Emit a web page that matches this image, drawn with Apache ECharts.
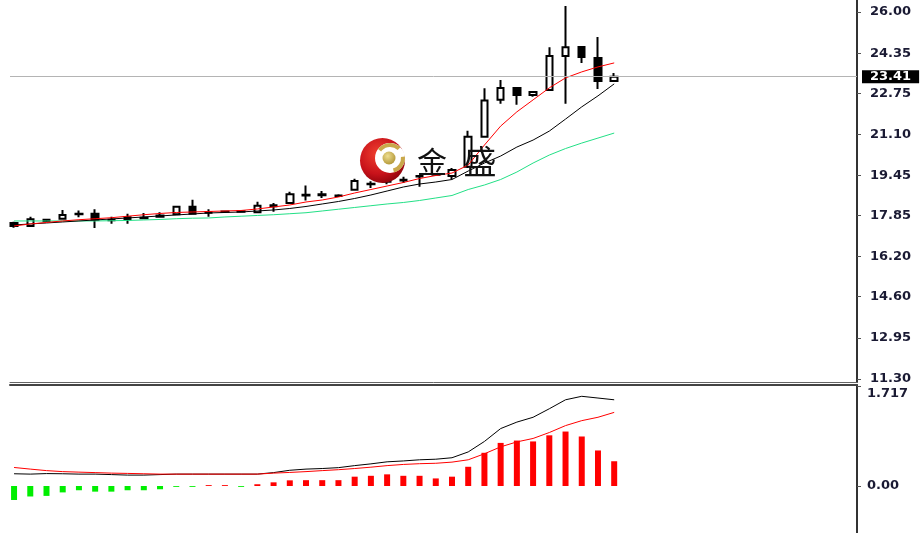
<!DOCTYPE html>
<html>
<head>
<meta charset="utf-8">
<script src="https://cdn.jsdelivr.net/npm/echarts@6/dist/echarts.min.js"></script>
<style>
html,body{margin:0;padding:0;background:#fff;}
#chart{width:924px;height:533px;}
</style>
</head>
<body>
<div id="chart"></div>
<script>
// ---- data ----
const openP  = [17.55,17.43,17.63,17.72,17.90,17.92,17.66,17.78,17.74,17.85,17.90,18.20,17.96,18.00,18.02,17.98,18.22,18.35,18.65,18.66,18.63,18.88,19.10,19.20,19.25,19.41,19.48,19.43,19.80,21.00,22.48,22.96,22.68,22.88,24.24,24.60,24.16,23.24];
const closeP = [17.43,17.70,17.68,17.87,17.92,17.68,17.68,17.70,17.76,17.80,18.20,17.92,17.98,18.01,18.00,18.24,18.26,18.70,18.68,18.70,18.65,19.23,19.12,19.24,19.28,19.43,19.50,19.67,21.00,22.45,22.96,22.68,22.80,24.24,24.59,24.20,23.24,23.41];
const lowP   = [17.36,17.40,17.60,17.70,17.78,17.35,17.52,17.52,17.72,17.78,17.88,17.90,17.80,17.95,17.98,17.95,18.00,18.33,18.45,18.55,18.60,18.85,18.95,19.10,19.15,19.00,19.45,19.30,19.75,20.98,22.32,22.28,22.60,22.85,22.32,23.96,22.92,23.20];
const highP  = [17.60,17.80,17.70,18.07,18.05,18.10,17.80,17.92,17.95,17.98,18.22,18.48,18.10,18.05,18.05,18.40,18.35,18.80,19.05,18.83,18.70,19.32,19.22,19.35,19.40,19.45,19.55,19.75,21.24,22.95,23.28,23.00,22.84,24.59,26.24,24.62,25.00,23.56];
const maRed   = [17.43,17.51,17.57,17.63,17.68,17.72,17.76,17.82,17.88,17.93,17.97,17.99,18.01,18.03,18.05,18.11,18.19,18.27,18.39,18.47,18.59,18.75,18.89,19.03,19.17,19.33,19.45,19.55,19.87,20.67,21.43,22.00,22.48,22.96,23.36,23.60,23.80,23.96];
const maBlack = [17.47,17.51,17.55,17.59,17.63,17.67,17.71,17.75,17.79,17.83,17.87,17.91,17.95,17.97,17.99,18.03,18.07,18.13,18.21,18.31,18.41,18.53,18.67,18.83,18.99,19.11,19.19,19.29,19.63,19.95,20.23,20.59,20.87,21.23,21.71,22.20,22.64,23.12];
const maGreen = [17.63,17.63,17.63,17.63,17.63,17.63,17.64,17.65,17.67,17.69,17.72,17.74,17.75,17.79,17.82,17.85,17.88,17.92,17.96,18.03,18.10,18.17,18.24,18.31,18.37,18.45,18.55,18.65,18.89,19.07,19.29,19.59,19.95,20.27,20.53,20.75,20.95,21.15];
const oscHist   = [-0.24,-0.18,-0.17,-0.11,-0.073,-0.097,-0.097,-0.073,-0.073,-0.056,-0.015,-0.015,0.015,0.015,-0.015,0.03,0.063,0.097,0.1,0.1,0.1,0.16,0.175,0.2,0.175,0.175,0.13,0.16,0.33,0.57,0.74,0.78,0.765,0.87,0.935,0.85,0.61,0.425];
const oscBlack  = [0.21,0.204,0.213,0.21,0.204,0.204,0.196,0.187,0.187,0.196,0.204,0.204,0.204,0.204,0.204,0.204,0.23,0.27,0.29,0.3,0.315,0.35,0.38,0.415,0.43,0.45,0.46,0.485,0.585,0.765,0.986,1.097,1.18,1.326,1.48,1.54,1.51,1.48];
const oscRed    = [0.318,0.29,0.264,0.247,0.238,0.23,0.221,0.216,0.21,0.204,0.204,0.204,0.204,0.204,0.204,0.204,0.221,0.233,0.247,0.264,0.28,0.3,0.323,0.35,0.37,0.383,0.39,0.41,0.45,0.553,0.672,0.757,0.816,0.918,1.037,1.122,1.18,1.264];
const priceTickLabels = ['26.00','24.35','22.75','21.10','19.45','17.85','16.20','14.60','12.95','11.30'];
const oscTickLabels = ['1.717','0.00'];

// ---- build ----
const priceTicks = priceTickLabels.map(Number);
const oscTicks = oscTickLabels.map(Number);
const candles = openP.map((o, i) => [i, o, closeP[i], lowP[i], highP[i]]);
const pairs = arr => arr.map((v, i) => [i, v]);
const lastClose = closeP[closeP.length - 1];

const labelFont = {fontFamily: 'DejaVu Sans', fontSize: 13, fontWeight: 'bold', color: '#1a1a33'};

const chart = echarts.init(document.getElementById('chart'), null, {renderer: 'canvas'});
chart.setOption({
  animation: false,
  backgroundColor: '#ffffff',
  grid: [
    {left: 10, right: 67, top: 0, height: 382},
    {left: 10, right: 67, top: 385, bottom: 0}
  ],
  xAxis: [
    {type: 'value', gridIndex: 0, min: -0.25, max: 51.97, position: 'bottom',
     axisLine: {show: true, onZero: false, lineStyle: {color: '#666', width: 1}},
     axisTick: {show: false}, axisLabel: {show: false}, splitLine: {show: false}},
    {type: 'value', gridIndex: 1, min: -0.25, max: 51.97, position: 'top',
     axisLine: {show: true, onZero: false, lineStyle: {color: '#444', width: 2}},
     axisTick: {show: false}, axisLabel: {show: false}, splitLine: {show: false}}
  ],
  yAxis: [
    {type: 'value', gridIndex: 0, position: 'right', min: 11.18, max: 26.48, scale: true,
     axisLine: {show: true, onZero: false, lineStyle: {color: '#333', width: 2}},
     axisTick: {show: true, length: 4, customValues: priceTicks, lineStyle: {color: '#555'}},
     axisLabel: Object.assign({customValues: priceTicks, margin: 13,
       formatter: v => priceTickLabels[priceTicks.indexOf(v)] ?? ''}, labelFont),
     splitLine: {show: false}},
    {type: 'value', gridIndex: 1, position: 'right', min: -0.807, max: 1.734,
     axisLine: {show: true, onZero: false, lineStyle: {color: '#333', width: 2}},
     axisTick: {show: true, length: 4, customValues: oscTicks, lineStyle: {color: '#555'}},
     axisLabel: Object.assign({customValues: oscTicks, margin: 10,
       formatter: v => { const i = oscTicks.indexOf(v); if (i < 0) return ''; return i === 0 ? '{top|' + oscTickLabels[i] + '}' : oscTickLabels[i]; },
       rich: {top: {padding: [16, 0, 0, 0], fontFamily: 'DejaVu Sans', fontSize: 13, fontWeight: 'bold', color: '#1a1a33'}}}, labelFont),
     splitLine: {show: false}}
  ],
  series: [
    {type: 'candlestick', xAxisIndex: 0, yAxisIndex: 0, data: candles, barWidth: 7, clip: false,
     itemStyle: {color: '#ffffff', color0: '#000000', borderColor: '#000000', borderColor0: '#000000', borderWidth: 2},
     markLine: {silent: true, symbol: ['none', 'none'], animation: false,
       lineStyle: {color: '#b4b4b4', width: 1, type: 'solid'},
       label: {show: true, position: 'end', distance: 5, formatter: () => lastClose.toFixed(2),
         backgroundColor: '#000', color: '#fff', fontFamily: 'DejaVu Sans', fontSize: 13, fontWeight: 'bold',
         lineHeight: 13, padding: [0, 8, 0, 8]},
       data: [{yAxis: lastClose}]}},
    {type: 'line', xAxisIndex: 0, yAxisIndex: 0, data: pairs(maGreen), symbol: 'none', lineStyle: {color: '#22e086', width: 1}},
    {type: 'line', xAxisIndex: 0, yAxisIndex: 0, data: pairs(maBlack), symbol: 'none', lineStyle: {color: '#000000', width: 1}},
    {type: 'line', xAxisIndex: 0, yAxisIndex: 0, data: pairs(maRed), symbol: 'none', lineStyle: {color: '#ff0000', width: 1}},
    {type: 'bar', xAxisIndex: 1, yAxisIndex: 1, data: pairs(oscHist), barWidth: 6,
     itemStyle: {color: p => p.value[1] >= 0 ? '#ff0000' : '#00ee00'}},
    {type: 'line', xAxisIndex: 1, yAxisIndex: 1, data: pairs(oscBlack), symbol: 'none', lineStyle: {color: '#000000', width: 1}},
    {type: 'line', xAxisIndex: 1, yAxisIndex: 1, data: pairs(oscRed), symbol: 'none', lineStyle: {color: '#ff0000', width: 1}}
  ],
  graphic: [
    {type: 'circle', z: 100, shape: {cx: 382.5, cy: 160.5, r: 22.5},
     style: {fill: new echarts.graphic.RadialGradient(0.4, 0.35, 0.75, [
       {offset: 0, color: '#f04030'}, {offset: 0.6, color: '#c8121a'}, {offset: 1, color: '#800008'}])}},
    {type: 'circle', z: 101, shape: {cx: 390, cy: 158, r: 15}, style: {fill: '#ffffff'}},
    {type: 'sector', z: 102, shape: {cx: 390, cy: 158, r: 15, r0: 11, startAngle: -2.5, endAngle: -0.8}, style: {fill: '#c9a84a'}},
    {type: 'sector', z: 102, shape: {cx: 390, cy: 158, r: 15, r0: 11, startAngle: -0.1, endAngle: 1.3}, style: {fill: '#c9a84a'}},
    {type: 'circle', z: 103, shape: {cx: 389, cy: 158, r: 6.5},
     style: {fill: new echarts.graphic.RadialGradient(0.4, 0.35, 0.8, [
       {offset: 0, color: '#eede90'}, {offset: 1, color: '#a88a28'}])}},
    {type: 'text', z: 100, x: 432, y: 162, style: {text: '金', font: '30px "Noto Sans CJK SC"', fill: '#111', align: 'center', verticalAlign: 'middle'}},
    {type: 'text', z: 100, x: 480, y: 161, style: {text: '盛', font: '33px "Noto Sans CJK SC"', fill: '#111', align: 'center', verticalAlign: 'middle'}}
  ]
});
</script>
</body>
</html>
